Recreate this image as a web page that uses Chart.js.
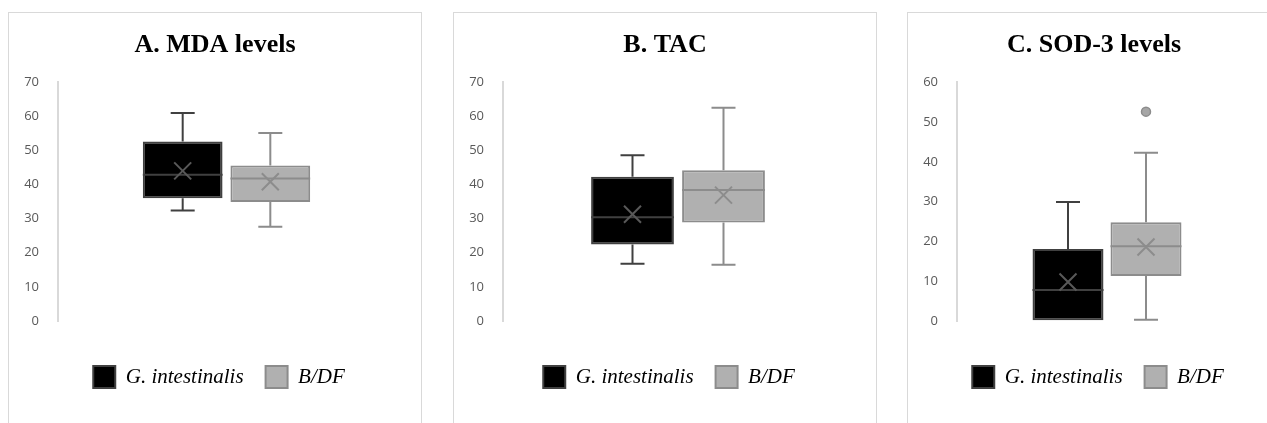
<!DOCTYPE html>
<html>
<head>
<meta charset="utf-8">
<script src="https://cdn.jsdelivr.net/npm/chart.js@4/dist/chart.umd.min.js"></script>
<style>
  html, body { margin: 0; padding: 0; background: #fff; overflow: hidden; }
  .panel { position: absolute; top: 12px; height: 420px; border: 1px solid #d9d9d9; box-sizing: border-box; }
  canvas { position: absolute; top: 13px; }
</style>
</head>
<body>
<div class="panel" style="left:8px;width:414px"></div>
<div class="panel" style="left:453px;width:424px"></div>
<div class="panel" style="left:907px;width:420px"></div>
<canvas id="c0" width="412" height="410" style="left:9px"></canvas>
<canvas id="c1" width="422" height="410" style="left:454px"></canvas>
<canvas id="c2" width="372" height="410" style="left:908px"></canvas>
<script>
// groups and panels
const groups = ['G. intestinalis', 'B/DF'];
const titles = ['A. MDA levels', 'B. TAC', 'C. SOD-3 levels'];
const yMax = [70, 70, 60];

// box stats per group: [min, q1, median, q3, max]
const mdaBox = [[32.4, 36.0, 42.9, 52.6, 61.0], [27.6, 34.9, 41.8, 45.6, 55.1]];
const mdaMean = [44.0, 40.8];
const tacBox = [[16.8, 22.4, 30.4, 42.3, 48.6], [16.5, 28.9, 38.4, 44.2, 62.5]];
const tacMean = [31.3, 36.9];
const sodBox = [[0.2, 0.2, 7.8, 18.1, 29.9], [0.3, 11.3, 18.8, 24.8, 42.3]];
const sodMean = [9.8, 18.6];
const sodOutliers = [[], [52.6]];

const fills = ['#000000', '#b0b0b0'];
const borders = ['#404040', '#8c8c8c'];
const meanColors = ['#595959', '#8c8c8c'];

// whiskers, median, mean and outliers drawn on top of the floating bars
const boxExtras = {
    id: 'boxExtras',
    afterLayout(chart) {
        // legend sits a little right of centre in the original
        chart.legend.left += 4;
        chart.legend.right += 4;
    },
    afterDatasetsDraw(chart) {
        const ctx = chart.ctx;
        const y = chart.scales.y;
        const ex = chart.options.plugins.boxExtras;
        chart.data.datasets.forEach((ds, i) => {
            const bar = chart.getDatasetMeta(i).data[0];
            const s = ex.stats[i];
            const x = bar.x, hw = bar.width / 2;
            ctx.save();
            ctx.strokeStyle = borders[i];
            ctx.lineWidth = 2;
            ctx.beginPath();
            // upper whisker
            ctx.moveTo(x, y.getPixelForValue(s[3]));
            ctx.lineTo(x, y.getPixelForValue(s[4]));
            ctx.moveTo(x - 12, y.getPixelForValue(s[4]));
            ctx.lineTo(x + 12, y.getPixelForValue(s[4]));
            // lower whisker
            if (s[0] < s[1]) {
                ctx.moveTo(x, y.getPixelForValue(s[1]));
                ctx.lineTo(x, y.getPixelForValue(s[0]));
                ctx.moveTo(x - 12, y.getPixelForValue(s[0]));
                ctx.lineTo(x + 12, y.getPixelForValue(s[0]));
            }
            // median
            ctx.moveTo(x - hw, y.getPixelForValue(s[2]));
            ctx.lineTo(x + hw, y.getPixelForValue(s[2]));
            ctx.stroke();
            // mean cross
            const my = y.getPixelForValue(ex.means[i]);
            ctx.strokeStyle = meanColors[i];
            ctx.beginPath();
            ctx.moveTo(x - 8.5, my - 8.5); ctx.lineTo(x + 8.5, my + 8.5);
            ctx.moveTo(x - 8.5, my + 8.5); ctx.lineTo(x + 8.5, my - 8.5);
            ctx.stroke();
            // outliers
            (ex.outliers[i] || []).forEach(v => {
                ctx.beginPath();
                ctx.arc(x, y.getPixelForValue(v), 4.5, 0, Math.PI * 2);
                ctx.fillStyle = '#a6a6a6';
                ctx.fill();
                ctx.lineWidth = 1.5;
                ctx.strokeStyle = '#8c8c8c';
                ctx.stroke();
            });
            ctx.restore();
        });
    }
};

function makeChart(id, title, max, stats, means, outliers, padRight) {
    const ctx = document.getElementById(id).getContext('2d');
    return new Chart(ctx, {
        type: 'bar',
        data: {
            labels: [''],
            datasets: groups.map((g, i) => ({
                label: g,
                data: [[stats[i][1], stats[i][3]]],
                backgroundColor: fills[i],
                borderColor: borders[i],
                borderWidth: 2,
                borderSkipped: false,
                categoryPercentage: 0.52,
                barPercentage: 0.91
            }))
        },
        options: {
            responsive: false,
            animation: false,
            devicePixelRatio: 1,
            layout: { padding: { top: 0, left: 0, right: 0, bottom: 25 } },
            scales: {
                x: {
                    display: true,
                    grid: { display: false },
                    border: { display: false },
                    ticks: { display: false },
                    afterFit: s => { s.height = 23; }
                },
                y: {
                    min: 0,
                    max: max,
                    grid: { display: false },
                    border: { display: true, color: '#d9d9d9', width: 2 },
                    ticks: {
                        stepSize: 10,
                        padding: 11,
                        color: '#595959',
                        font: { family: 'Open Sans', size: 13 }
                    },
                    afterFit: s => { s.width = 49; }
                },
                // empty right axis, only reserves space so the title stays centred on the panel
                r: {
                    position: 'right',
                    display: true,
                    grid: { display: false },
                    border: { display: false },
                    ticks: { display: false },
                    afterFit: s => { s.width = padRight; }
                }
            },
            plugins: {
                title: {
                    display: true,
                    text: title,
                    color: '#000',
                    font: { family: 'Liberation Serif', size: 26, weight: 'bold' },
                    padding: { top: 17, bottom: 21 }
                },
                legend: {
                    position: 'bottom',
                    labels: {
                        boxWidth: 22,
                        boxHeight: 22,
                        padding: 22,
                        color: '#262626',
                        font: { family: 'Liberation Serif', size: 21, style: 'italic' },
                        generateLabels: () => groups.map((g, i) => ({
                            text: g,
                            fillStyle: fills[i],
                            strokeStyle: borders[i],
                            lineWidth: 2,
                            datasetIndex: i,
                            hidden: false
                        }))
                    }
                },
                tooltip: { enabled: false },
                boxExtras: { stats: stats, means: means, outliers: outliers }
            }
        },
        plugins: [boxExtras]
    });
}

makeChart('c0', titles[0], yMax[0], mdaBox, mdaMean, [[], []], 26);
makeChart('c1', titles[1], yMax[1], tacBox, tacMean, [[], []], 23);
makeChart('c2', titles[2], yMax[2], sodBox, sodMean, sodOutliers, 23);
</script>
</body>
</html>
